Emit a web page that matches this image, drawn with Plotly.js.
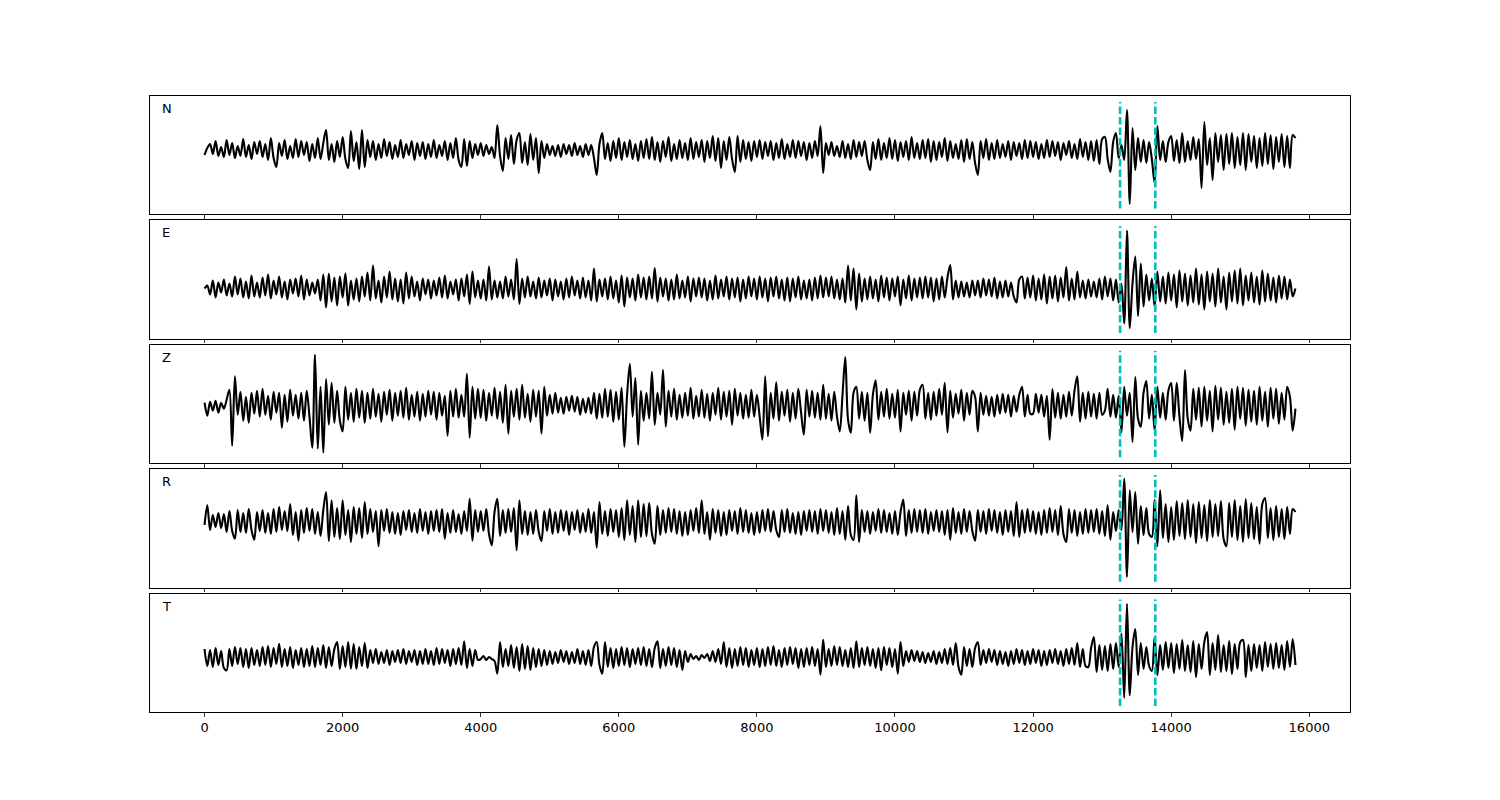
<!DOCTYPE html>
<html>
<head>
<meta charset="utf-8">
<script src="https://cdn.plot.ly/plotly-3.0.1.min.js"></script>
<style>html,body{margin:0;padding:0;background:#fff;}#chart{width:1500px;height:800px;}</style>
</head>
<body>
<div id="chart"></div>
<script>
// Components, in panel order (top to bottom)
const componentNames = ["N", "E", "Z", "R", "T"];
// Sample step (samples) and samples per row of the value tables
const sampleStep = 40;
const rowSpan = 800;
// Picked phase markers (sample index)
const pickTimes = [13260, 13770];
// X tick values
const xTickVals = [0, 2000, 4000, 6000, 8000, 10000, 12000, 14000, 16000];

// Trace values, one row per 800 samples (relative amplitude)
const traceN = [
[-5,2,6,-4,9,-6,3,-7,10,-5,7,-8,4,-6,11,-7,5,-9,8,-4],
[9,-7,6,-10,12,-8,-17,7,-6,10,-9,4,-8,11,-7,9,-5,8,-11,6],
[-8,12,-9,7,20,-10,6,-12,9,-7,13,-9,-18,19,-11,8,-19,20,-17,10],
[-7,9,-10,6,-8,11,-6,8,-9,5,-7,10,-8,6,-5,9,-10,7,-6,8],
[-9,6,-7,10,-8,5,-6,9,-10,7,-8,12,-10,-17,11,-16,9,-8,6,-5],
[7,-6,5,-4,3,-8,25,-6,-21,12,-9,15,-14,10,17,-13,8,-15,16,-10],
[12,-23,9,-8,6,-5,4,-6,5,-7,6,-4,5,-6,7,-5,4,-7,6,-5],
[5,-8,-25,6,17,-9,7,-11,9,-8,12,-10,8,-7,10,-9,6,-11,9,-8],
[11,-9,13,-10,8,-12,9,-7,13,-11,6,-9,10,-8,7,-10,12,-9,8,-7],
[10,-12,9,-8,14,-11,12,-18,9,-10,13,-9,-22,14,-12,10,-9,8,-11,9],
[-7,10,-9,8,-6,9,-10,7,-8,11,-9,6,-7,10,-8,9,-6,8,-10,7],
[-8,9,-6,24,-23,7,-5,8,-6,4,-7,9,-8,6,-9,10,-7,8,-6,9],
[-10,-20,8,-9,11,-10,7,-8,12,-9,10,-11,8,-7,9,-10,13,-8,7,-9],
[10,-8,11,-12,9,-10,8,-7,12,-11,9,-8,6,-9,10,-12,11,-9,8,-13],
[-25,9,-8,11,-10,7,-9,10,-8,6,-7,9,-10,8,-6,7,-9,10,-8,9],
[-7,8,-9,6,-8,10,-7,9,-6,8,-10,7,-5,9,-8,6,-9,11,-7,8],
[-10,9,-11,10,-14,11,13,-9,-22,8,17,-8,5,-10,40,-54,22,-20,12,-12],
[10,-13,8,-9,-33,24,-10,9,-12,8,14,-11,10,-13,17,-12,9,-10,13,-9],
[11,-38,28,-15,12,-30,17,-12,15,-20,16,-14,17,-18,13,-15,17,-20,16,-12],
[14,-18,12,-16,17,-14,15,-19,13,-12,16,-17,14,-18,15,12]
];
const traceE = [
[0,3,-6,8,-9,6,-4,9,-7,5,-8,12,-6,10,-9,7,-10,13,-8,6],
[-9,11,-7,14,-10,8,-6,12,-9,7,-11,9,-5,10,-8,13,-11,9,-7,6],
[-5,9,-12,14,-19,15,-13,11,-17,12,-9,15,-17,8,-11,10,-13,12,-8,16],
[-12,23,-10,8,-14,12,-9,17,-11,10,-13,9,-15,16,-10,12,-8,7,-12,10],
[-6,9,-10,8,-7,11,-9,13,-10,7,-6,9,-12,10,-8,14,-15.5,17,-9,8],
[-10,9,-12,22,-11,8,-9,7,-10,12,-8,9,-11,29.5,-15.5,10,-9,12,-8,7],
[-10,11,-9,8,-7,10,-12,9,-8,7,-11,10,-9,12,-7,8,-10,11,-9,8],
[-12,20,-13,9,-8,10,-11,12,-10,8,-14,13,-18,11,-9,10,-12,14,-9,11],
[-11,12,-10,20.5,-13,11,-8,10,-12,9,-11,14,-10,8,-9,12,-13,10,-8,11],
[-9,10,-12,8,-11,13,-10,9,-8,12,-11,10,-9,11,-13,9,-10,12,-8,10],
[-11,12,-9,10,-13,11,-8,12,-10,9,-12,11,-13,10,-9,12,-11,8,-10,9],
[-12,11,-10,13,-9,11,-8,12,-10,9,-11,10,-14,23,-12,20,-21,15,-13,10],
[-11,12,-10,9,-13,13,-9,11,-12,10,-8,12,-16.8,9,-10,13,-12,10,-9,11],
[-10,12,-9,11,-13,10,-11,12,-9,11,23.5,-11,8,-9,7,-8,6,-9,8,-7],
[8,-9,10,-7,9,-8,11,-10,7,-9,8,-8,6,-8,-14,9,12,-10,11,-9],
[13,-12,10,-11,14,-15,12,-10,13,-13,11,-9,21.5,-12,10,-11,17,-9,8,-10],
[9,-8,7,-9,10,-11,12,-8,10,-12,9,-14,5,-35,58,-39.5,5,32,-27.5,25],
[-18,14,-12,10,-18,17,-13,12,-15,16,-12,14,-19,18,-13,15,-17,13,-14,20],
[-16,14,-21,17,-13,15,-18,20,-14,12,-21,16,-13,18,-15,20,-17,13,-12,16],
[-14,12,-16,18,-13,15,-12,11,-14,13,-10,12,-11,9,-8,0]
];
const traceZ = [
[2,-11,3,-6,4,-8,2,-4,5,15,-41,28.4,-10,13,-16,8,-18,12,-9,14],
[-12,16,-10,9,-15,13,-8,12,-23,10,-17,15,-11,10,-14,12,-16,14,-12,-43],
[50,-44,18,-48,25.7,-20,22,-18,14,-16,-26.7,18,-15,12,-17,16,-13,14,-18,12],
[-14,16,-12,11,-17,13,-10,15,-16,12,-11,14,-13,17,-15,10,-12,13,-16,11],
[-12,14,-10,13,-15,12,-11,9,-31,14,-12,16,-13,10,-12,31,-33,18,-14,16],
[-13,15,-16,12,-11,17,-14,13,-18,20,-29,14,-12,16,-15,20,-13,11,-17,15],
[-12,14,-29,18,-11,10,-9,12,-8,7,-9,8,-6,9,-7,8,-10,6,-8,7],
[-9,12,-14,11,-13,16,-12,15,-17,13,-15,17,-42,10,41,-12,26.7,-40,14,-16],
[12,-14,33,-20,12,-10,35,-22,14,-12,16,-15,10,-13,12,-11,17,-14,9,-12],
[15,-13,11,-16,12,-10,17,-15,13,-12,14,-20,16,-11,12,-14,10,-13,15,-12],
[10,-12,-35,28.4,-31.6,12,-14,22.4,-16,13,-11,15,-17,12,-14,16,-8,-30,15,-12],
[14,-13,12,-15,20,-14,11,-16,13,-12,-26.7,10,47.7,-15,-28,12,18,-14,13,-16],
[12,-28,10,24.4,-15,13,-12,16,-14,11,-13,15,-26.7,12,-10,14,-16,13,-11,15],
[20,-14,12,-15,13,-11,16,-10,22,-27.7,14,-13,11,-9,15,-16,12,-10,14,8],
[-26.7,12,-10,9,-11,8,-12,10,-9,11,-8,10,-12,9,-7,10,18,-12,10,-9],
[-9,11,-8,10,-12,9,-35,15.7,-13,12,-14,10,-12,13,-11,14,28.4,-17,12,-14],
[13,-12,11,-14,12,-10,-6,16,-12,10,-13,9,-27.7,18,-11,12,-37.3,27.7,-14,-22],
[12,23.7,-14,10,-25.7,18,-13,12,-15,14,21.7,-16,22,-12,-36.3,34.7,-14,-26,16,-15],
[17,-22,18,-16,14,-26.7,19,-15,17,-20,13,-18,16,-25,18,-14,17,-21,15,-17],
[14,-20,18,-16,13,-22,17,-14,16,-19,12,-15,18,8,-26,-4]
];
const traceR = [
[-3,16.7,-8,7,-5,9,-6,8,-10,11,-9,-16.7,12,-10,9,-11,13,-8,-17.7,10],
[-9,12,-11,9,-12,13,-10,15,-8,11,-9,18,-13,10,-18.7,12,-11,14,-9,13],
[-12,10,-14,12,30,-19,21.7,-15,14,-17,21.7,-13,12,-20,15,-12,14,-16,20,-12],
[13,-10,11,-24.3,12,-9,13,-11,10,-12,9,-13,11,-8,12,-10,9,-11,13,-9],
[10,-12,11,-9,12,-10,13,-16.7,9,-11,12,-10,8,-12,11,-9,23.3,-18.7,12,-10],
[11,-9,13,-12,-23.3,10,23.3,-14,12,-11,13,-10,14,-28.3,21.7,-12,11,-13,10,-12],
[12,-10,-19,11,-9,13,-12,10,-11,12,-9,11,-13,10,-8,12,-11,9,-10,13],
[-11,10,-25.7,20,-12,11,-14,13,-10,12,-15,14,-18,21.7,-13,16,-20,21.7,-15,18],
[-14,19,-12,-21.7,16,-13,12,-11,14,-10,13,-12,11,-14,10,-13,12,-9,14,-11],
[21.7,-12,10,-17.7,13,-11,12,-14,10,-13,12,-9,11,-12,14,-10,12,-11,9,-13],
[10,-11,12,-9,13,-10,11,-8,-15,12,-10,13,-11,9,-12,10,-13,11,-9,12],
[-10,11,-12,13,-9,12,-11,10,-13,14,-12,11,-17.7,16,-13,-18,26.7,-20,12,-10],
[11,-12,10,-9,13,-11,12,-10,9,-12,11,-13,10,22.4,-14,12,-11,13,-10,12],
[-11,13,-12,10,-9,12,-10,11,-13,12,-17.7,14,-11,10,-12,13,-10,11,-9,-18.7],
[12,-10,11,-12,13,-9,12,-11,10,-13,12,-10,11,-14,20,-15,12,-11,13,-10],
[11,-12,10,-13,12,-11,14,-10,12,-13,16,-12,-20,13,-11,12,-14,10,-12,13],
[-11,12,-10,13,-12,11,-14,16.7,-17.7,10,-9,12,-8,43.3,-55,31.7,-10,30,-21.7,16],
[-13,14,-12,-15,22.3,-24.3,31.7,-16,18,-20,15,-18,21,-14,19,-17,22,-15,18,-21],
[20,-16,17,-19,22,-15,18,-14,21,-17,-24.3,19,-15,22,-18,16,-20,23,-16,19],
[-17,15,-21.7,18,24,-16,14,-18,16,-15,13,-17,15,-12,13,10]
];
const traceT = [
[8,-9,7,-10,9,-8,6,-11,-13.3,8,-9,10,-7,9,-10,8,-11,9,-8,7],
[-9,10,-8,11,-10,9,-7,13.3,-10,8,-9,10,-11,7,-8,9,-10,8,-9,11],
[-10,9,-8,12,-11,10,-9,8,15,-12,11,-10,15,-11.7,13,-12,10,-9,14,-11],
[7,-6,8,-7,5,-6,7,-8,6,-5,7,-6,8,-7,6,-5,7,-8,6,-7],
[8,-7,6,-8,9,-7,8,-6,7,-9,8,-7,9,-8,15.7,-11,8,-9,7,-3],
[-2,1,-3,0,-2,-4,-16.7,15,-10,8,-9,12,-11,10,-14,13,-12,11,-13,9],
[-10,8,-9,7,-8,6,-7,5,-6,7,-5,6,-7,5,-6,8,-7,6,-8,7],
[-9,10,15,-8,-16.7,15,-10,9,-11,8,-9,10,-8,9,-10,8,-7,9,-8,10],
[-9,8,-10,9,15.7,-11,8,-9,10,-8,9,-10,7,-13,6,-5,3,-2,1,-3],
[2,-1,3,-4,6,-5,8,-7,15,-10,9,-11,8,-9,10,-8,9,-10,7,-8],
[9,-10,8,-9,10,-8,11,-9,7,-10,9,-8,10,-7,9,-11,8,-10,9,-8],
[10,-9,8,-17.7,17.3,-10,8,-9,11,-8,10,-9,7,-10,9,-11,15.7,-10,9,-8],
[10,-9,8,-11,9,-13.3,10,-8,9,-10,8,-16.7,15,-9,6,-5,7,-4,6,-5],
[5,-6,4,-5,6,-7,5,-6,8,-7,9,-8,14,-10,-17.7,10,-9,8,-10,9],
[15,-8,7,-6,8,-5,7,-8,6,-7,5,-9,6,-7,8,-6,7,-8,6,-7],
[8,-6,7,-9,6,-8,7,-6,8,-7,6,-9,8,-7,9,-8,14,-10,8,-9],
[-10,9,20,-15,12,-13,11,-14,13,-12,14,-10,23.3,-41,53.3,-38.3,10,28,-18,14],
[-12,10,-9,-14,20,-18.3,12,-13,15,-11,14,-16,13,-12,17,-14,12,-15,16,-20],
[13,-12,15,25,-18,14,-13,22,-15,12,-14,16,-17,13,-12,15,17,-20,12,-14],
[13,-11,12,-14,15,-10,13,-12,14,-11,12,-13,16,-10,18,-8]
];
// Visible amplitude range per panel [bottom, top]
const panelRanges = [[-64.4, 54], [-50.3, 68.1], [-58.5, 59.9], [-65.6, 52.8], [-55, 63.4]];

const traceTables = [traceN, traceE, traceZ, traceR, traceT];

function flatten(rows) {
  const xs = [], ys = [];
  rows.forEach((row, r) => row.forEach((v, k) => { xs.push(r * rowSpan + k * sampleStep); ys.push(v); }));
  return {xs, ys};
}

const nPanels = componentNames.length;
const plotH = 616, panelH = 118.4, gapH = 6;
const data = [];
const layout = {
  width: 1500, height: 800,
  margin: {l: 150, r: 150, t: 96, b: 88, pad: 0},
  paper_bgcolor: "#ffffff", plot_bgcolor: "#ffffff",
  showlegend: false,
  font: {family: "DejaVu Sans, sans-serif", size: 13, color: "#000"},
  shapes: [], annotations: []
};

traceTables.forEach((rows, i) => {
  const s = i === 0 ? "" : String(i + 1);
  const {xs, ys} = flatten(rows);
  data.push({type: "scatter", mode: "lines", x: xs, y: ys, xaxis: "x" + s, yaxis: "y" + s,
    line: {color: "#000000", width: 2.1, shape: "spline", smoothing: 0.9}, hoverinfo: "skip"});
  const top = 1 - i * (panelH + gapH) / plotH;
  const bot = top - panelH / plotH;
  layout["xaxis" + s] = {
    domain: [0, 1], anchor: "y" + s, range: [-790, 16590],
    matches: i === 0 ? undefined : "x",
    showline: true, mirror: true, linecolor: "#000", linewidth: 1,
    ticks: "outside", ticklen: 3.5, tickwidth: 0.8, tickcolor: "#000",
    tickvals: xTickVals, ticktext: xTickVals.map(String),
    showticklabels: i === nPanels - 1,
    tickfont: {family: "DejaVu Sans, sans-serif", size: 13, color: "#000"},
    showgrid: false, zeroline: false, fixedrange: true
  };
  layout["yaxis" + s] = {
    domain: [Math.max(0, bot), Math.min(1, top)], anchor: "x" + s, range: panelRanges[i],
    showline: true, mirror: true, linecolor: "#000", linewidth: 1,
    ticks: "", showticklabels: false, showgrid: false, zeroline: false, fixedrange: true
  };
  pickTimes.forEach(t => {
    layout.shapes.push({type: "line", xref: "x" + s, yref: "y" + s + " domain",
      x0: t, x1: t, y0: 0.05, y1: 0.95, layer: "above",
      line: {color: "#00BFBF", width: 2.6, dash: "7.5px,3px"}});
  });
  layout.annotations.push({text: componentNames[i], xref: "x" + s + " domain", yref: "y" + s + " domain",
    x: 0.008, y: 0.894, xanchor: "left", yanchor: "middle", showarrow: false,
    font: {family: "DejaVu Sans, sans-serif", size: 13, color: "#000"}});
});

Plotly.newPlot("chart", data, layout, {displayModeBar: false, staticPlot: true});
</script>
</body>
</html>
